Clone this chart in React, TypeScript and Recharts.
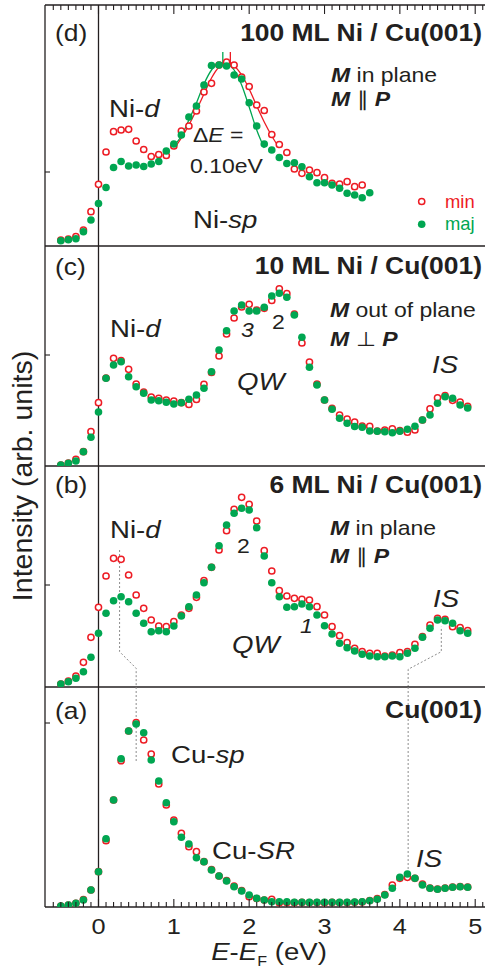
import React from "react";
import { ComposedChart, Scatter, Line, XAxis, YAxis, ReferenceLine } from "recharts";

const RED = "#ed1c24";
const GREEN = "#00a651";
const INK = "#231f20";
const GUIDE = "#8c8c8c";
const FONT = "'Liberation Sans', Arial, Helvetica, sans-serif";
const SX = 1.15; // the lettering in the figure is a bit wide

// E - E_F in eV
const ENERGY = [
  -0.5, -0.4, -0.3, -0.2, -0.1, 0, 0.1, 0.2, 0.3, 0.4, 0.5, 0.6, 0.7, 0.8, 0.9,
  1.0, 1.1, 1.2, 1.3, 1.4, 1.5, 1.6, 1.7, 1.8, 1.9, 2.0, 2.1, 2.2, 2.3, 2.4,
  2.5, 2.6, 2.7, 2.8, 2.9, 3.0, 3.1, 3.2, 3.3, 3.4, 3.5, 3.6, 3.7, 3.8, 3.9,
  4.0, 4.1, 4.2, 4.3, 4.4, 4.5, 4.6, 4.7, 4.8, 4.9,
];

// (d) 100 ML Ni / Cu(001)
const D_MAJ = [5.3, 6.3, 7.3, 14.3, 26, 42.5, 58.5, 78.5, 84.5, 80, 81, 79.5, 82, 84.5, 95, 102, 111, 129, 140, 161, 180.5, 181, 180, 171, 167, 143.3, 120, 102, 96, 88.5, 82.5, 83.3, 79.3, 69.3, 63.3, 63.3, 61, 57.7, 52.7, 51, 48.3, 53.3];
const D_MIN = [6, 7, 9.3, 16, 34.3, 61.7, 94, 114.3, 116, 116.7, 105, 96.5, 89.5, 91.5, 90.5, 100, 115, 120, 135, 154, 162.7, 181, 184, 181, 169, 159.5, 141, 135.5, 111.5, 101.5, 93.5, 77, 72.7, 76, 73.3, 68.3, 62.7, 62, 64.3, 59.3, 61];
const FIT_E_MAJ = [1.0, 1.1, 1.2, 1.3, 1.4, 1.5, 1.6, 1.7, 1.8, 1.9, 2.0, 2.1, 2.2];
const FIT_D_MAJ = [100, 110, 126, 143, 162, 176, 183, 182.5, 176, 161, 139, 116, 98];
const FIT_E_MIN = [1.0, 1.1, 1.2, 1.3, 1.4, 1.5, 1.6, 1.7, 1.8, 1.9, 2.0, 2.1, 2.2, 2.3, 2.4];
const FIT_D_MIN = [97, 108, 121, 136, 152, 168, 179, 183, 180, 171, 157, 140, 124, 110, 98];
const PEAK_MAJ = 1.65;
const PEAK_MIN = 1.75;
const PEAK_MARK = [180, 194];

// (c) 10 ML Ni / Cu(001)
const C_MAJ = [1, 2.7, 5, 14.3, 28.7, 54, 87.7, 101, 104.3, 89.3, 79.3, 72.7, 66, 65.3, 63.7, 62, 63.3, 66.7, 71, 77.7, 94.3, 116, 135.3, 155, 161, 155, 155, 158.7, 170, 172.7, 168.7, 151, 128.7, 98.7, 81, 66, 56.7, 47.7, 42.7, 39.5, 38.7, 35, 34.7, 34.3, 33.3, 34.8, 36.7, 39.7, 46, 51, 62.7, 69.3, 67.7, 61, 58];
const C_MIN = [1, 3, 6.7, 14.3, 34.3, 63.3, 88, 107.7, 105.3, 96.7, 82, 74, 69, 67.7, 66, 65, 63.3, 61.5, 66.5, 81.7, 93.5, 110, 132, 148, 159, 161.7, 156, 157.7, 165.5, 177.2, 172.3, 152, 123, 104, 82, 66, 57.7, 51, 47, 44, 40, 39.7, 35, 36, 37.2, 35.3, 33.8, 36, 46, 57.2, 68.2, 70.5, 65.7, 63.8, 59.7];

// (b) 6 ML Ni / Cu(001)
const B_MAJ = [3, 5.3, 8.7, 15.3, 29.7, 53.7, 73.7, 86.3, 90.3, 85.3, 73.7, 63.7, 55.3, 56.3, 55.3, 61, 71, 80.3, 92, 104.3, 119.7, 141.3, 162, 173.7, 178.7, 177, 159.3, 131, 104.3, 90.3, 79.7, 80.3, 83, 80.3, 72, 61.3, 53, 43.7, 39.3, 36, 32.7, 31, 30.3, 30.3, 31, 30.3, 33.7, 38.7, 49.7, 58.7, 67, 66.3, 63.7, 56.3, 53.7];
const B_MIN = [3, 6, 11, 24.7, 49.7, 79.7, 111, 128.7, 127.7, 112, 92, 78.7, 67, 61, 60.3, 65.3, 72, 78.7, 89.7, 106.3, 119.7, 137, 156.3, 177.7, 189.7, 182.7, 166, 136.3, 116, 96.3, 91, 88.7, 87.7, 87, 80.3, 72, 60.3, 51.3, 44.3, 38.7, 35.3, 33.7, 33.7, 31, 32, 34.3, 35.3, 42.7, 50.3, 62, 68.7, 67.7, 60.3, 59.3, 56.3];

// (a) Cu(001)
const A_MAJ = [1, 2, 3.7, 7, 17, 35.3, 68.3, 107, 148.3, 176, 183, 174.3, 147, 126, 104.3, 85.3, 69.7, 63, 49.3, 45.3, 37, 31, 26, 20.3, 16, 12, 8.7, 7, 5.3, 5.3, 5.3, 4.7, 4.8, 4.6, 4.7, 4.8, 4.7, 4.6, 4.8, 4.9, 5.2, 6.3, 7.7, 12, 18.7, 29.7, 33, 28.7, 22, 18.7, 17.7, 18.7, 19.7, 20.3, 19.7];
const A_MIN = [1, 2, 3.7, 7.5, 17, 35.3, 66.3, 107, 146.3, 176, 184.3, 167, 153, 123, 102, 87, 73.7, 60.3, 55.3, 45.3, 37.5, 31, 26.5, 21, 16.5, 10.3, 8.5, 7, 7.7, 4.3, 4.5, 4.3, 4.6, 4.4, 4.5, 4.3, 4.6, 4.5, 4.4, 4.7, 5, 6.5, 8.5, 12.5, 22, 28.7, 29.7, 28.7, 23, 19, 18, 19, 20, 20.5, 20];

// dotted guides linking Ni-d / Cu-sp and the IS peaks
const GUIDE_B_L_E = [0.28, 0.28, 0.5, 0.5];
const GUIDE_B_L_I = [137, 35.3, 18.7, 0];
const GUIDE_A_L_E = [0.5, 0.5];
const GUIDE_A_L_I = [220, 145.3];
const GUIDE_B_R_E = [4.11, 4.11, 4.55, 4.55];
const GUIDE_B_R_I = [0, 17.7, 35.3, 60.3];
const GUIDE_A_R_E = [4.11, 4.11];
const GUIDE_A_R_I = [220, 37];

const X_DOMAIN = [-0.71, 5.13];
const X_TICKS = [
  -0.6, -0.5, -0.4, -0.3, -0.2, -0.1, 0, 0.1, 0.2, 0.3, 0.4, 0.5, 0.6, 0.7, 0.8,
  0.9, 1, 1.1, 1.2, 1.3, 1.4, 1.5, 1.6, 1.7, 1.8, 1.9, 2, 2.1, 2.2, 2.3, 2.4, 2.5,
  2.6, 2.7, 2.8, 2.9, 3, 3.1, 3.2, 3.3, 3.4, 3.5, 3.6, 3.7, 3.8, 3.9, 4, 4.1,
  4.2, 4.3, 4.4, 4.5, 4.6, 4.7, 4.8, 4.9, 5, 5.1,
];

type Pt = { x: number; y: number };
const zip = (xs: number[], ys: number[]): Pt[] => ys.map((y, i) => ({ x: xs[i], y }));

const openDot = (p: any) => (
  <circle cx={p.cx} cy={p.cy} r={3.1} fill="#fff" stroke={RED} strokeWidth={1.5} />
);
const fullDot = (p: any) => <circle cx={p.cx} cy={p.cy} r={3.8} fill={GREEN} />;

const bottomTick = (p: any) => {
  const v = p.payload.value;
  const major = Number.isInteger(v);
  return (
    <g>
      <line x1={p.x} x2={p.x} y1={p.y} y2={p.y - (major ? 8 : 5)} stroke={INK} strokeWidth={1.1} />
      {major && (
        <text
          transform={`translate(${p.x},${p.y + 27}) scale(${SX},1)`}
          textAnchor="middle"
          fontSize={22}
          fontFamily={FONT}
          fill={INK}
        >
          {v}
        </text>
      )}
    </g>
  );
};

const topTick = (p: any) => {
  const major = Number.isInteger(p.payload.value);
  return <line x1={p.x} x2={p.x} y1={p.y} y2={p.y + (major ? 9 : 5)} stroke={INK} strokeWidth={1.1} />;
};

const leftTick = (p: any) => (
  <line x1={p.x} x2={p.x + 5} y1={p.y} y2={p.y} stroke={INK} strokeWidth={1.1} />
);

type PanelProps = {
  top: number;
  height: number;
  mTop: number;
  mBottom: number;
  yMax: number;
  yTick: number;
  min: Pt[];
  maj: Pt[];
  first?: boolean;
  last?: boolean;
  guides?: Pt[][];
};

function Panel({ top, height, mTop, mBottom, yMax, yTick, min, maj, first, last, guides = [] }: PanelProps) {
  return (
    <div style={{ position: "absolute", left: 0, top }}>
      {/* axes are 1px thick boxes, so the margins are one short of the frame */}
      <ComposedChart width={485} height={height} margin={{ top: mTop, right: 0, bottom: mBottom, left: 44 }}>
        <XAxis
          xAxisId="b"
          dataKey="x"
          type="number"
          domain={X_DOMAIN}
          allowDataOverflow
          ticks={X_TICKS}
          interval={0}
          height={1}
          tickSize={0}
          tickMargin={0}
          tickLine={false}
          tick={last ? bottomTick : false}
          axisLine={{ stroke: INK, strokeWidth: 1.3 }}
        />
        {first && (
          <XAxis
            xAxisId="t"
            orientation="top"
            dataKey="x"
            type="number"
            domain={X_DOMAIN}
            allowDataOverflow
            ticks={X_TICKS}
            interval={0}
            height={1}
            tickSize={0}
            tickMargin={0}
            tickLine={false}
            tick={topTick}
            axisLine={{ stroke: INK, strokeWidth: 1.3 }}
          />
        )}
        <YAxis
          yAxisId="l"
          dataKey="y"
          type="number"
          domain={[0, yMax]}
          allowDataOverflow
          ticks={[yTick]}
          interval={0}
          width={1}
          tickSize={0}
          tickMargin={0}
          tickLine={false}
          tick={leftTick}
          axisLine={{ stroke: INK, strokeWidth: 1.3 }}
        />
        <ReferenceLine xAxisId="b" yAxisId="l" x={0} stroke={INK} strokeWidth={1.3} />
        {guides.map((g, i) => (
          <Line
            key={i}
            xAxisId="b"
            yAxisId="l"
            data={g}
            dataKey="y"
            type="linear"
            stroke={GUIDE}
            strokeWidth={1}
            strokeDasharray="2 2"
            dot={false}
            activeDot={false}
            isAnimationActive={false}
          />
        ))}
        <Scatter xAxisId="b" yAxisId="l" data={min} dataKey="y" shape={openDot} isAnimationActive={false} />
        <Scatter xAxisId="b" yAxisId="l" data={maj} dataKey="y" shape={fullDot} isAnimationActive={false} />
        {first && (
          <Line
            xAxisId="t"
            yAxisId="l"
            data={zip(FIT_E_MAJ, FIT_D_MAJ)}
            dataKey="y"
            type="monotone"
            stroke={GREEN}
            strokeWidth={1.3}
            dot={false}
            activeDot={false}
            isAnimationActive={false}
          />
        )}
        {first && (
          <Line
            xAxisId="t"
            yAxisId="l"
            data={zip(FIT_E_MIN, FIT_D_MIN)}
            dataKey="y"
            type="monotone"
            stroke={RED}
            strokeWidth={1.3}
            dot={false}
            activeDot={false}
            isAnimationActive={false}
          />
        )}
        {first && (
          <ReferenceLine
            xAxisId="b"
            yAxisId="l"
            segment={[{ x: PEAK_MAJ, y: PEAK_MARK[0] }, { x: PEAK_MAJ, y: PEAK_MARK[1] }]}
            stroke={GREEN}
            strokeWidth={1.3}
          />
        )}
        {first && (
          <ReferenceLine
            xAxisId="b"
            yAxisId="l"
            segment={[{ x: PEAK_MIN, y: PEAK_MARK[0] }, { x: PEAK_MIN, y: PEAK_MARK[1] }]}
            stroke={RED}
            strokeWidth={1.3}
          />
        )}
      </ComposedChart>
    </div>
  );
}

function Txt({
  x,
  y,
  size,
  anchor = "start",
  bold = false,
  color = INK,
  sx = SX,
  children,
}: {
  x: number;
  y: number;
  size: number;
  anchor?: "start" | "middle" | "end";
  bold?: boolean;
  color?: string;
  sx?: number;
  children: React.ReactNode;
}) {
  return (
    <text
      transform={`translate(${x},${y}) scale(${sx},1)`}
      fontSize={size}
      textAnchor={anchor}
      fontWeight={bold ? "bold" : "normal"}
      fill={color}
      fontFamily={FONT}
    >
      {children}
    </text>
  );
}

const I = ({ children }: { children: React.ReactNode }) => <tspan fontStyle="italic">{children}</tspan>;
const BI = ({ children }: { children: React.ReactNode }) => (
  <tspan fontStyle="italic" fontWeight="bold">
    {children}
  </tspan>
);

export default function App() {
  return (
    <div style={{ position: "absolute", left: 0, top: 0, width: 485, height: 974, background: "#fff", overflow: "hidden" }}>
      <Panel top={0} height={248} mTop={4} mBottom={1} yMax={241} yTick={74}
        min={zip(ENERGY, D_MIN)} maj={zip(ENERGY, D_MAJ)} first />
      <Panel top={244} height={224} mTop={2} mBottom={1} yMax={220} yTick={111}
        min={zip(ENERGY, C_MIN)} maj={zip(ENERGY, C_MAJ)} />
      <Panel top={464} height={225} mTop={2} mBottom={1} yMax={221} yTick={102}
        min={zip(ENERGY, B_MIN)} maj={zip(ENERGY, B_MAJ)}
        guides={[zip(GUIDE_B_L_E, GUIDE_B_L_I), zip(GUIDE_B_R_E, GUIDE_B_R_I)]} />
      <Panel top={685} height={289} mTop={2} mBottom={66} yMax={220} yTick={184}
        min={zip(ENERGY, A_MIN)} maj={zip(ENERGY, A_MAJ)} last
        guides={[zip(GUIDE_A_L_E, GUIDE_A_L_I), zip(GUIDE_A_R_E, GUIDE_A_R_I)]} />

      <svg width={485} height={974} style={{ position: "absolute", left: 0, top: 0, pointerEvents: "none" }}>
        <text
          transform="translate(32,476) rotate(-90)"
          fontSize={28.5}
          textAnchor="middle"
          fill={INK}
          fontFamily={FONT}
        >
          Intensity (arb. units)
        </text>
        <text transform={`translate(269,960) scale(${SX},1)`} fontSize={24} textAnchor="middle" fill={INK} fontFamily={FONT}>
          <I>E</I>-<I>E</I>
          <tspan fontSize={14} dy={6}>F</tspan>
          <tspan dy={-6}> (eV)</tspan>
        </text>

        {/* (d) */}
        <Txt x={55} y={41} size={23}>(d)</Txt>
        <Txt x={482} y={41} size={23} anchor="end" bold>100 ML Ni / Cu(001)</Txt>
        <Txt x={109} y={117} size={24}>Ni-<I>d</I></Txt>
        <Txt x={331} y={82} size={20}><BI>M</BI> in plane</Txt>
        <Txt x={331} y={106} size={20}><BI>M</BI> ∥ <BI>P</BI></Txt>
        <Txt x={193} y={142} size={20}>Δ<I>E</I> =</Txt>
        <Txt x={190} y={173} size={20}>0.10eV</Txt>
        <Txt x={193} y={228} size={24}>Ni-<I>sp</I></Txt>
        <circle cx={421.7} cy={201.5} r={3.1} fill="#fff" stroke={RED} strokeWidth={1.5} />
        <Txt x={445} y={207.5} size={19} sx={0.97} color={RED}>min</Txt>
        <circle cx={421.7} cy={224.3} r={3.8} fill={GREEN} />
        <Txt x={445} y={230} size={19} sx={0.97} color={GREEN}>maj</Txt>

        {/* (c) */}
        <Txt x={55} y={275} size={23}>(c)</Txt>
        <Txt x={482} y={274} size={23} anchor="end" bold>10 ML Ni / Cu(001)</Txt>
        <Txt x={110} y={337} size={24}>Ni-<I>d</I></Txt>
        <Txt x={330} y={317} size={20}><BI>M</BI> out of plane</Txt>
        <Txt x={330} y={346} size={20}><BI>M</BI> ⊥ <BI>P</BI></Txt>
        <Txt x={241} y={337} size={20}><I>3</I></Txt>
        <Txt x={272} y={329} size={20}>2</Txt>
        <Txt x={237} y={390} size={24}><I>QW</I></Txt>
        <Txt x={432} y={373} size={24}><I>IS</I></Txt>

        {/* (b) */}
        <Txt x={55} y={493} size={23}>(b)</Txt>
        <Txt x={482} y={493} size={23} anchor="end" bold>6 ML Ni / Cu(001)</Txt>
        <Txt x={110} y={538} size={24}>Ni-<I>d</I></Txt>
        <Txt x={330} y={535} size={20}><BI>M</BI> in plane</Txt>
        <Txt x={330} y={563} size={20}><BI>M</BI> ∥ <BI>P</BI></Txt>
        <Txt x={237} y={553} size={20}>2</Txt>
        <Txt x={300} y={633} size={20}><I>1</I></Txt>
        <Txt x={232} y={653} size={24}><I>QW</I></Txt>
        <Txt x={433} y={607} size={24}><I>IS</I></Txt>

        {/* (a) */}
        <Txt x={55} y={719} size={23}>(a)</Txt>
        <Txt x={482} y={718} size={23} anchor="end" bold>Cu(001)</Txt>
        <Txt x={171} y={763} size={24}>Cu-<I>sp</I></Txt>
        <Txt x={212} y={859} size={24}>Cu-<I>SR</I></Txt>
        <Txt x={416} y={867} size={24}><I>IS</I></Txt>
      </svg>
    </div>
  );
}
